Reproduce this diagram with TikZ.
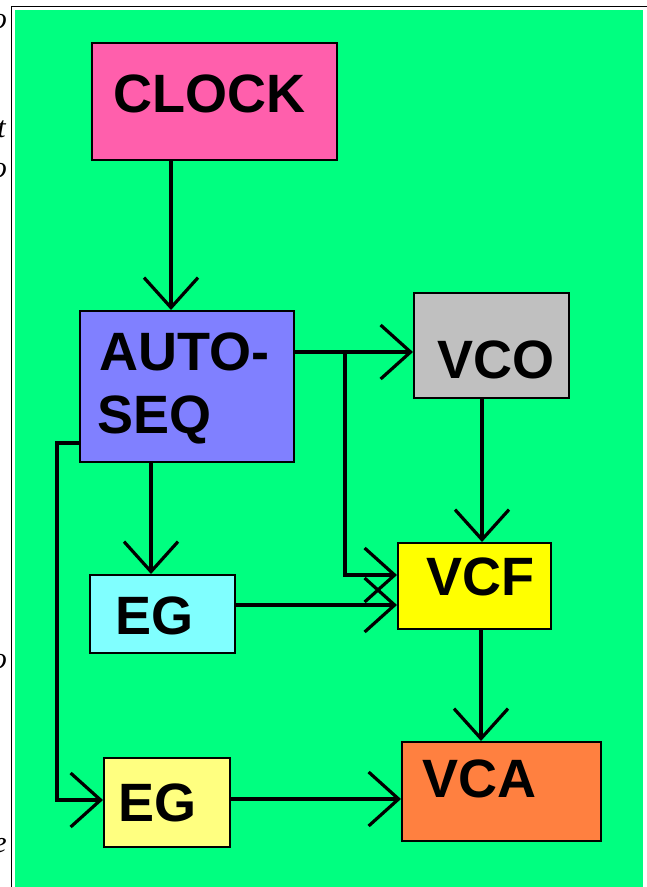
\documentclass[tikz,border=0pt]{standalone}
\usepackage{fontspec}
\setmainfont{Liberation Sans}
\newfontfamily\pagefont{Liberation Serif}
\usetikzlibrary{arrows.meta}
\definecolor{bggreen}{RGB}{0,255,128}
\definecolor{clockpink}{RGB}{255,95,172}
\definecolor{seqblue}{RGB}{128,128,255}
\definecolor{vcogrey}{RGB}{192,192,192}
\definecolor{vcfyellow}{RGB}{255,255,0}
\definecolor{egcyan}{RGB}{128,255,255}
\definecolor{egyellow}{RGB}{255,255,128}
\definecolor{vcaorange}{RGB}{255,128,64}
\begin{document}
\begin{tikzpicture}[x=1pt, y=-1pt,
	blk/.style={draw=black, line width=1.8pt, inner sep=0pt, anchor=north west},
	txt/.style={font=\bfseries\fontsize{54}{63}\selectfont, inner sep=0pt, anchor=base west},
	frag/.style={font=\pagefont\itshape\fontsize{30}{30}\selectfont, inner sep=0pt, anchor=base east},
	arr/.style={line width=3.2pt, -{Straight Barb[length=30pt, width=54pt]}}]
		\useasboundingbox (0,0) rectangle (647,887);
		\fill[white] (0,0) rectangle (647,887);
		\begin{scope}
			\clip (0,0) rectangle (8.5,887);
			\node[frag] (fragA) at (7,28) {o};
			\node[frag] (fragB) at (6,137) {t};
			\node[frag] (fragC) at (7,177) {o};
			\node[frag] (fragD) at (7,668) {o};
			\node[frag] (fragE) at (7,852) {e};
		\end{scope}
		\fill[bggreen] (15,10) rectangle (643,887);
		\draw[black, line width=1.5pt] (11.5,887) -- (11.5,6.5) -- (647,6.5);
		\node[blk, fill=clockpink, minimum width=245, minimum height=117] (clock) at (91,42) {};
		\node[blk, fill=seqblue, minimum width=214, minimum height=151] (autoseq) at (79,310) {};
		\node[blk, fill=vcogrey, minimum width=155, minimum height=105] (vco) at (413,292) {};
		\node[blk, fill=vcfyellow, minimum width=153, minimum height=86] (vcf) at (397,542) {};
		\node[blk, fill=egcyan, minimum width=145, minimum height=78] (egA) at (89,574) {};
		\node[blk, fill=egyellow, minimum width=126, minimum height=89] (egB) at (103,757) {};
		\node[blk, fill=vcaorange, minimum width=199, minimum height=99] (vca) at (401,741) {};
		\node[txt] (clocktxt) at (113.5,112) {CLOCK};
		\node[txt] (seqtxtA) at (99,370) {AUTO-};
		\node[txt] (seqtxtB) at (97.5,433) {SEQ};
		\node[txt] (vcotxt) at (437,378) {VCO};
		\node[txt] (vcftxt) at (426,595) {VCF};
		\node[txt] (egAtxt) at (115,634) {EG};
		\node[txt] (egBtxt) at (118,821) {EG};
		\node[txt] (vcatxt) at (422,797) {VCA};
		\coordinate (split) at (345,352);
		\coordinate (bend) at (57,443);
		\draw[arr] (171,0 |- clock.south) -- (171,0 |- autoseq.north);
		\draw[arr] (autoseq.east |- split) -- (vco.west |- split);
		\draw[arr] (split) |- (vcf.west |- 0,575);
		\draw[arr] (482,0 |- vco.south) -- (482,0 |- vcf.north);
		\draw[arr] (151,0 |- autoseq.south) -- (151,0 |- egA.north);
		\draw[arr] (egA.east |- 0,605) -- (vcf.west |- 0,605);
		\draw[arr] (481,0 |- vcf.south) -- (481,0 |- vca.north);
		\draw[arr] (egB.east |- 0,799) -- (vca.west |- 0,799);
		\draw[arr] (autoseq.west |- bend) -- (bend) |- (egB.west |- 0,800);
	\end{tikzpicture}
\end{document}
